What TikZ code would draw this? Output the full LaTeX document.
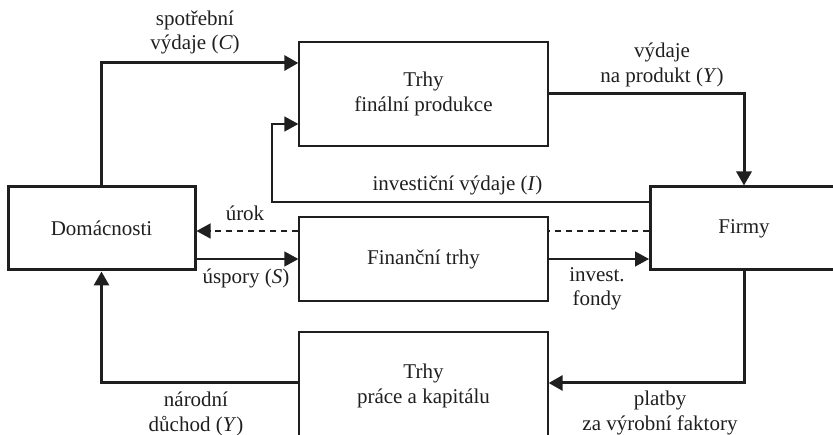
\documentclass[tikz,border=0pt]{standalone}
\usepackage{fontspec}
\setmainfont{Liberation Serif}
\usetikzlibrary{arrows.meta,calc}

\tikzset{
  market/.style={draw, line width=1.3pt, minimum width=249pt, inner sep=0pt, align=center},
  sector/.style={draw, line width=3pt, minimum width=187pt, minimum height=83pt, inner sep=0pt},
  thinflow/.style={line width=1.3pt, -{Triangle[length=14pt,width=15pt]}},
  thickflow/.style={line width=3pt, -{Triangle[length=14pt,width=15pt]}},
  lbl/.style={align=center, inner sep=0pt}
}

\begin{document}
\begin{tikzpicture}[x=1pt, y=-1pt, color={black!88}, every node/.style={font=\fontsize{21}{24.5}\selectfont}]
\clip (0,0) rectangle (833,435);
% sectors
\node[sector] (dom) at (101.5,228.5) {Domácnosti};
\node[sector] (firmy) at (744,228.5) {Firmy};
% markets
\node[market, minimum height=104pt] (trhy) at (423.5,94) {Trhy\\finální produkce};
\node[market, minimum height=84pt] (fin) at (423.5,259) {Finanční trhy};
\node[market, minimum height=108pt] (prace) at (423.5,386) {Trhy\\práce a kapitálu};
% upper loop
\draw[thickflow] (dom.north) |- ([yshift=31pt]trhy.west);
\draw[thickflow] (trhy.east) -| (firmy.north);
\coordinate (ib) at (272,124);
\draw[thinflow] ([yshift=26.5pt]firmy.west) -| (ib) -- (ib -| trhy.west);
% financial flows
\draw[line width=1.3pt, dash pattern=on 6pt off 5pt] ([yshift=-2.5pt]firmy.west) -- ([yshift=-2.5pt]firmy.west -| fin.east);
\draw[thinflow, dash pattern=on 6pt off 5pt] ([yshift=28pt]fin.west) -- ([yshift=28pt]fin.west -| dom.east);
\draw[thinflow] ([yshift=-30.5pt]dom.east) -- ([yshift=-30.5pt]dom.east -| fin.west);
\draw[thinflow] (fin.east) -- (fin.east -| firmy.west);
% lower loop
\draw[thickflow] (firmy.south) |- ([yshift=3pt]prace.east);
\draw[thickflow] ([yshift=3pt]prace.west) -| (dom.south);
% labels
\node[lbl] (lc) at (195,32.5) {spotřební\\výdaje (\textit{C})};
\node[lbl] (ly) at (662,65) {výdaje\\na produkt (\textit{Y})};
\node[lbl] (li) at (457.5,185) {investiční výdaje (\textit{I})};
\node[lbl] (lr) at (245,213) {úrok};
\node[lbl] (ls) at (246,278) {úspory (\textit{S})};
\node[lbl] (lf) at (597,289) {invest.\\fondy};
\node[lbl] (lp) at (660,413) {platby\\za výrobní faktory};
\node[lbl] (ld) at (196,414) {národní\\důchod (\textit{Y})};
\end{tikzpicture}
\end{document}
